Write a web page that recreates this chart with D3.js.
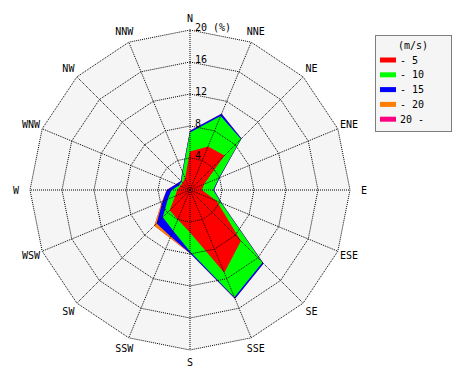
<!DOCTYPE html>
<html><head><meta charset="utf-8">
<script src="https://cdn.jsdelivr.net/npm/d3@7"></script>
<style>body{margin:0;background:#fff}svg text{font-family:"DejaVu Sans Mono",monospace;font-size:10px;fill:#000}</style>
</head><body><svg id="c" width="470" height="380"></svg>
<script>
const directions = ["N","NNE","NE","ENE","E","ESE","SE","SSE","S","SSW","SW","WSW","W","WNW","NW","NNW"];
const speedClasses = ["- 5","- 10","- 15","- 20","20 -"];
const classColors = ["#ff0000","#00ff00","#0000ff","#ff8000","#ff0080"];
const ringTicks = [4, 8, 12, 16, 20];
// frequency (%) per speed class, per direction
const freqTo5   = [4.8, 5.9, 6.1, 1.9, 1.5, 3.6, 9.0, 11.2, 5.3, 4.0, 3.6, 2.0, 1.6, 1.3, 1.3, 1.6];
const freqTo10  = [2.4, 4.1, 2.9, 2.0, 1.4, 0.6, 3.8, 3.3, 2.4, 1.5, 1.2, 1.0, 0.7, 0.2, 0.2, 0.8];
const freqTo15  = [0.2, 0.3, 0.1, 0.1, 0.1, 0.1, 0.2, 0.2, 0.2, 0.8, 1.1, 0.7, 0.6, 0.4, 0.1, 0.1];
const freqTo20  = [0.0, 0.0, 0.0, 0.0, 0.0, 0.0, 0.0, 0.0, 0.0, 0.2, 0.4, 0.1, 0.0, 0.0, 0.0, 0.0];
const freqOver20= [0, 0, 0, 0, 0, 0, 0, 0, 0, 0, 0, 0, 0, 0, 0, 0];

const series = [freqTo5, freqTo10, freqTo15, freqTo20, freqOver20];
const rows = directions.map((d, i) => {
  const o = {dir: d};
  speedClasses.forEach((k, j) => o[k] = series[j][i]);
  return o;
});
const stacked = d3.stack().keys(speedClasses)(rows);

const svg = d3.select("#c");
const cx = 190, cy = 190;
const r = d3.scaleLinear().domain([0, 20]).range([0, 160]);
const ang = d3.scalePoint().domain(directions).range([0, 2 * Math.PI * 15 / 16]);

const g = svg.append("g").attr("transform", `translate(${cx},${cy})`);
const ringLine = v => d3.lineRadial().angle(d => ang(d)).radius(() => r(v)).curve(d3.curveLinearClosed)(directions);

// background
g.append("path").attr("d", ringLine(20)).attr("fill", "#f5f5f5");

// data polygons, outermost first
const area = d3.lineRadial().angle(d => ang(d.data.dir)).radius(d => r(d[1])).curve(d3.curveLinearClosed);
for (let j = stacked.length - 1; j >= 0; j--) {
  g.append("path").attr("d", area(stacked[j])).attr("fill", classColors[j]).attr("stroke", "none");
}

// grid
ringTicks.forEach(t => {
  g.append("path").attr("d", ringLine(t)).attr("fill", "none")
    .attr("stroke", "#000").attr("stroke-width", 1).attr("stroke-dasharray", "1,1");
});
directions.forEach(d => {
  const a = ang(d);
  g.append("line").attr("x1", 0).attr("y1", 0)
    .attr("x2", r(20) * Math.sin(a)).attr("y2", -r(20) * Math.cos(a))
    .attr("stroke", "#000").attr("stroke-width", 1).attr("stroke-dasharray", "1,1");
});

// ring labels
ringTicks.forEach(t => {
  g.append("text").attr("x", 5).attr("y", -r(t) + 1).text(t === 20 ? "20 (%)" : String(t));
});

// direction labels
directions.forEach(d => {
  const a = ang(d), rr = (d === "W" || d === "E") ? 174 : 172;
  g.append("text").attr("x", rr * Math.sin(a)).attr("y", -rr * Math.cos(a))
    .attr("text-anchor", "middle").attr("dominant-baseline", "central").text(d);
});

// legend
const lg = svg.append("g").attr("transform", "translate(375,35)");
lg.append("rect").attr("x", 0.5).attr("y", 0.5).attr("width", 76).attr("height", 96)
  .attr("fill", "#f5f5f5").attr("stroke", "#000").attr("stroke-dasharray", "1,1");
lg.append("text").attr("x", 38).attr("y", 14).attr("text-anchor", "middle").text("(m/s)");
speedClasses.forEach((k, j) => {
  const y = 25 + j * 14.8;
  lg.append("rect").attr("x", 5).attr("y", y - 2.5).attr("width", 16).attr("height", 5).attr("fill", classColors[j]);
  lg.append("text").attr("x", 25).attr("y", y).attr("dominant-baseline", "central").attr("font-size", 11).text(k);
});
</script></body></html>
